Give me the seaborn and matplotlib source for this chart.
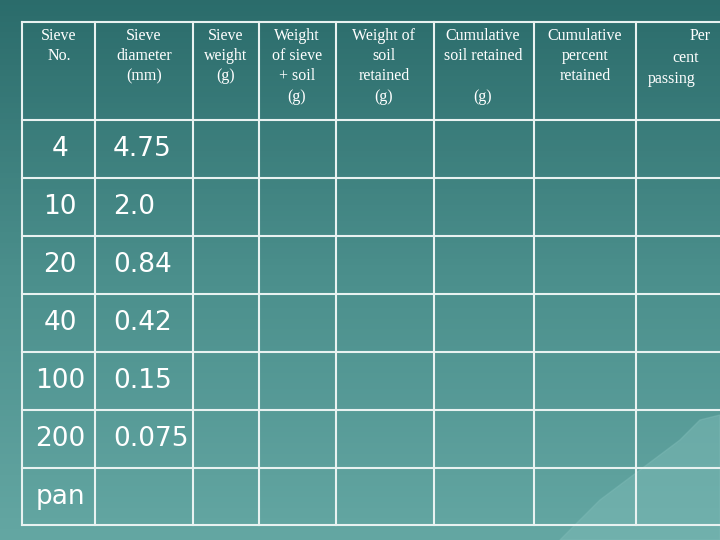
import matplotlib
matplotlib.use("Agg")
import matplotlib.pyplot as plt
import seaborn as sns
import numpy as np

headers = ["Sieve\nNo.", "Sieve\ndiameter\n(mm)", "Sieve\nweight\n(g)", "Weight\nof sieve\n+ soil\n(g)",
           "Weight of\nsoil\nretained\n(g)", "Cumulative\nsoil retained\n\n(g)", "Cumulative\npercent\nretained"]
sieve_no = ["4", "10", "20", "40", "100", "200", "pan"]
diameter = ["4.75", "2.0", "0.84", "0.42", "0.15", "0.075", ""]

col_edges = [22, 95, 193, 259, 336, 434, 534, 636, 720]
row_edges = [22, 120, 178, 236, 294, 352, 410, 468, 525]

fig = plt.figure(figsize=(7.2, 5.4), dpi=100)
bg = fig.add_axes([0, 0, 1, 1])
grad = np.linspace(0, 1, 100)[:, None] * np.ones((1, 10))
cmap = matplotlib.colors.LinearSegmentedColormap.from_list("t", ["#2b6c6b", "#4a8e8b", "#63a6a2"])
sns.heatmap(grad, ax=bg, cbar=False, cmap=cmap, xticklabels=False, yticklabels=False)
bg.set_axis_off()

ax = fig.add_axes([0, 0, 1, 1], facecolor="none")
ax.set_xlim(0, 720); ax.set_ylim(540, 0); ax.set_axis_off()
mx = [560, 600, 640, 680, 700, 720, 720, 560]
my = [540, 500, 470, 440, 420, 415, 540, 540]
ax.fill(mx, my, color="#7dbab6", alpha=0.5, zorder=0)

lc = "#e8f2f1"
for x in col_edges[:-1]:
    ax.plot([x, x], [row_edges[0], row_edges[-1]], color=lc, lw=1.5)
for y in row_edges:
    ax.plot([col_edges[0], 720], [y, y], color=lc, lw=1.5)

centers = [59, 144, 226, 297, 384, 483, 585]
for cx, h in zip(centers, headers):
    ax.text(cx, 28, h, ha="center", va="top", color="white", fontsize=11.5,
            family="Liberation Serif", linespacing=1.35)
ax.text(711, 28, "Per", ha="right", va="top", color="white", fontsize=11.5, family="Liberation Serif")
ax.text(686, 50, "cent", ha="center", va="top", color="white", fontsize=11.5, family="Liberation Serif")
ax.text(672, 71, "passing", ha="center", va="top", color="white", fontsize=11.5, family="Liberation Serif")

for i, (s, d) in enumerate(zip(sieve_no, diameter)):
    yc = (row_edges[i + 1] + row_edges[i + 2]) / 2
    ax.text(60, yc, s, ha="center", va="center", color="white", fontsize=19, family="DejaVu Sans")
    ax.text(113, yc, d, ha="left", va="center", color="white", fontsize=19, family="DejaVu Sans")

fig.savefig("out.png", dpi=100)
